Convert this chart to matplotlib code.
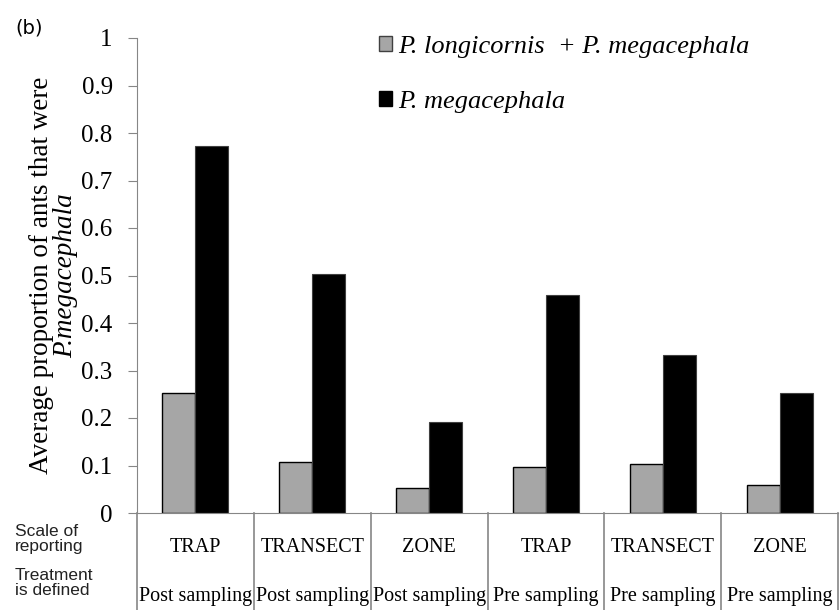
import matplotlib
matplotlib.use("Agg")
import matplotlib.pyplot as plt
import matplotlib.transforms as mtransforms
from matplotlib.patches import Patch
import numpy as np

# data
scales = ["TRAP", "TRANSECT", "ZONE", "TRAP", "TRANSECT", "ZONE"]
treatments = ["Post sampling", "Post sampling", "Post sampling",
              "Pre sampling", "Pre sampling", "Pre sampling"]
both_species = [0.252, 0.107, 0.053, 0.096, 0.104, 0.059]
megacephala = [0.773, 0.503, 0.191, 0.460, 0.333, 0.253]
series_labels = ["P. longicornis  + P. megacephala", "P. megacephala"]
yticks = [0, 0.1, 0.2, 0.3, 0.4, 0.5, 0.6, 0.7, 0.8, 0.9, 1]

plt.rcParams["font.family"] = ["Liberation Serif", "DejaVu Serif"]
SANS = "Liberation Sans"
AXIS_GREY = "#868686"

fig = plt.figure(figsize=(8.4, 6.1), dpi=100)
ax = fig.add_axes([137 / 840, 97 / 610, 701 / 840, 475 / 610])

x = np.arange(len(scales))
w = 0.282
ax.bar(x - w / 2, both_species, w, color="#A6A6A6", edgecolor="black", lw=1.0)
ax.bar(x + w / 2, megacephala, w, color="black", edgecolor="#404040", lw=0.8)

ax.set_xlim(-0.5, len(scales) - 0.5)
ax.set_ylim(0, 1)
ax.set_yticks(yticks)
ax.set_yticklabels([f"{t:g}" for t in yticks])
ax.tick_params(axis="y", direction="out", length=6.5, color=AXIS_GREY, pad=11,
               labelsize=18)
ax.set_xticks([])

for side in ("top", "right"):
    ax.spines[side].set_visible(False)
for side in ("left", "bottom"):
    ax.spines[side].set_color(AXIS_GREY)

# table grid under the axis
trans = mtransforms.blended_transform_factory(ax.transData, ax.transAxes)
for b in np.arange(-0.5, len(scales), 1.0):
    ax.plot([b, b], [0, -0.21], transform=trans, color=AXIS_GREY, lw=1.2,
            clip_on=False)
for i in range(len(scales)):
    ax.text(x[i], -0.072, scales[i], transform=trans, ha="center", va="center",
            fontsize=14.5)
    ax.text(x[i], -0.175, treatments[i], transform=trans, ha="center", va="center",
            fontsize=14.5)

fig.text(15 / 840, 1 - 539 / 610, "Scale of\nreporting", ha="left", va="center",
         fontsize=12.5, linespacing=1.0, color="#222222", family=SANS)
fig.text(15 / 840, 1 - 583 / 610, "Treatment\nis defined", ha="left", va="center",
         fontsize=12.5, linespacing=1.0, color="#222222", family=SANS)
fig.text(15 / 840, 1 - 28 / 610, "(b)", ha="left", va="center", fontsize=14,
         family="DejaVu Sans")

# two-line y label, second line italic
ax.set_ylabel("Average proportion of ants that were", fontsize=19.5)
ax.yaxis.set_label_coords((54 - 137) / 701, 0.5)
ax.text((66 - 137) / 701, 0.5, "P.megacephala", transform=ax.transAxes,
        rotation=90, ha="center", va="center", fontsize=19.5, fontstyle="italic")

ax.legend(handles=[Patch(facecolor="#A6A6A6", edgecolor="#404040"),
                   Patch(facecolor="black", edgecolor="black")],
          labels=series_labels, loc="upper left",
          bbox_to_anchor=(368 / 840, 1 - 25 / 610), bbox_transform=fig.transFigure,
          frameon=False, prop={"size": 19, "style": "italic"},
          handlelength=0.5, handleheight=0.5,
          handletextpad=0.25, labelspacing=1.25, borderaxespad=0)

fig.savefig("out.png", dpi=100)
